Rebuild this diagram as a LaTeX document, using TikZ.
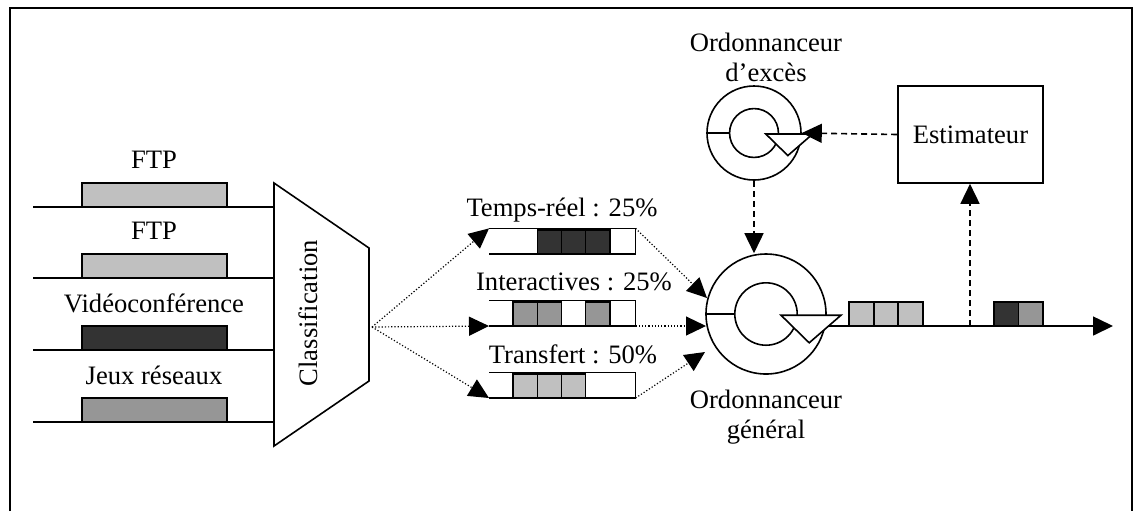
\documentclass[tikz,border=0pt]{standalone}
\usepackage{fontspec}
\setmainfont{Liberation Serif}
\usepackage{xcolor}
\usetikzlibrary{arrows.meta}
\usetikzlibrary{positioning}

\definecolor{pklight}{HTML}{C0C0C0}
\definecolor{pkmid}{HTML}{969696}
\definecolor{pkdark}{HTML}{333333}

\begin{document}
\begin{tikzpicture}[x=0.5pt, y=-0.5pt, line width=0.8pt,
        lbl/.style={inner sep=0pt, align=center, font=\fontsize{13.3pt}{15pt}\selectfont},
        pkt/.style={draw, line width=0.8pt},
        tip/.style={-{Triangle[length=10pt, width=9.5pt]}},
        dotline/.style={densely dotted, line width=0.6pt},
        dashline/.style={dash pattern=on 3pt off 2pt, line width=0.8pt},
        sched/.pic={
          \draw (0,0) circle (1);
          \draw (0,0) circle (0.52);
          \draw (-1,0) -- (-0.52,0);
          \draw[fill=white] (0.25,0.02) -- (1.25,0.02) -- (0.72,0.48) -- cycle;
        }
      ]
  \useasboundingbox (0,0) rectangle (1135,511);
  \draw[line width=1pt] (10,511) -- (10,8) -- (1132,8) -- (1132,511);

        % flux en entree
        \foreach \y/\name/\col [count=\i] in {207/FTP/pklight, 278/FTP/pklight,
                350/Vidéoconférence/pkdark, 422/Jeux réseaux/pkmid} {
          \coordinate (src\i) at (33,\y);
          \coordinate (dst\i) at (274,\y);
          \draw (src\i) -- (dst\i);
          \draw[pkt, fill=\col] (82,\y) rectangle (227,\y-24);
          \node[lbl] (flow\i) at (154,\y-47) {\name};
        }

        % classification
        \draw (274,183) -- (369,248) -- (369,381) -- (274,446) -- cycle;
        \node[lbl, rotate=90] (cls) at (308,313) {Classification};
        \coordinate (fan) at (372,327);

        % files d'attente
        \foreach \yb/\lx/\name/\col/\cells [count=\k] in {
                254/562/Temps-réel : 25\%/pkdark/{2,3,4},
                326/574/Interactives : 25\%/pkmid/{1,2,4},
                398/573/Transfert : 50\%/pklight/{1,2,3}} {
          \node[inner sep=0pt, minimum width=72.5pt, minimum height=12pt,
                anchor=south west] (q\k) at (489,\yb) {};
          \foreach \c in \cells {
            \draw[pkt, fill=\col] (489+\c*24.17,\yb) rectangle ++(24.17,-24);
          }
          \draw (q\k.north west) -- (q\k.north east) -- (q\k.south east) -- (q\k.south west);
          \node[lbl] (ql\k) at (\lx,\yb-44) {\name};
        }
        \draw[dotline, tip] (fan) -- (q1.north west);
        \draw[dotline, tip] (fan) -- (q2.south west);
        \draw[dotline, tip] (fan) -- (q3.south west);

        % ordonnanceurs
        \coordinate (g1) at (707,298);
        \coordinate (g2) at (706,326);
        \coordinate (g3) at (705,352);
        \coordinate (out0) at (828,326);
        \coordinate (out) at (1113,326);
        \draw[tip] (out0) -- (out);
        \node[circle, inner sep=0pt, minimum size=60pt] (ordg) at (766,314) {};
        \pic[scale=60] at (ordg) {sched};
        \node[lbl] (ordg-lbl) at (766,417) {Ordonnanceur\\général};
        \node[circle, inner sep=0pt, minimum size=47pt] (orde) at (754,133) {};
        \pic[scale=47] at (orde) {sched};
        \node[lbl] (orde-lbl) at (766,57) {Ordonnanceur\\d’excès};
        \draw[dotline, tip] (q1.north east) -- (g1);
        \draw[dotline, tip] (q2.south east) -- (g2);
        \draw[dotline, tip] (q3.south east) -- (g3);

        % estimateur
        \node[lbl, draw, line width=0.8pt, minimum width=72.5pt, minimum height=48.5pt]
              (est) at (970.5,134.5) {Estimateur};
        \draw[dashline, tip] (est.west) -- (orde.east);
        \draw[dashline, tip] (orde.south) -- (orde.south |- ordg.north);

        % sortie
        \foreach \x/\col in {849/pklight, 873.7/pklight, 898.3/pklight, 994/pkdark, 1018.5/pkmid} {
          \draw[pkt, fill=\col] (\x,326) rectangle ++(24.5,-24);
        }
        \coordinate (tap) at (970,326);
        \draw[dashline, tip] (tap) -- (tap |- est.south);

\end{tikzpicture}
\end{document}
